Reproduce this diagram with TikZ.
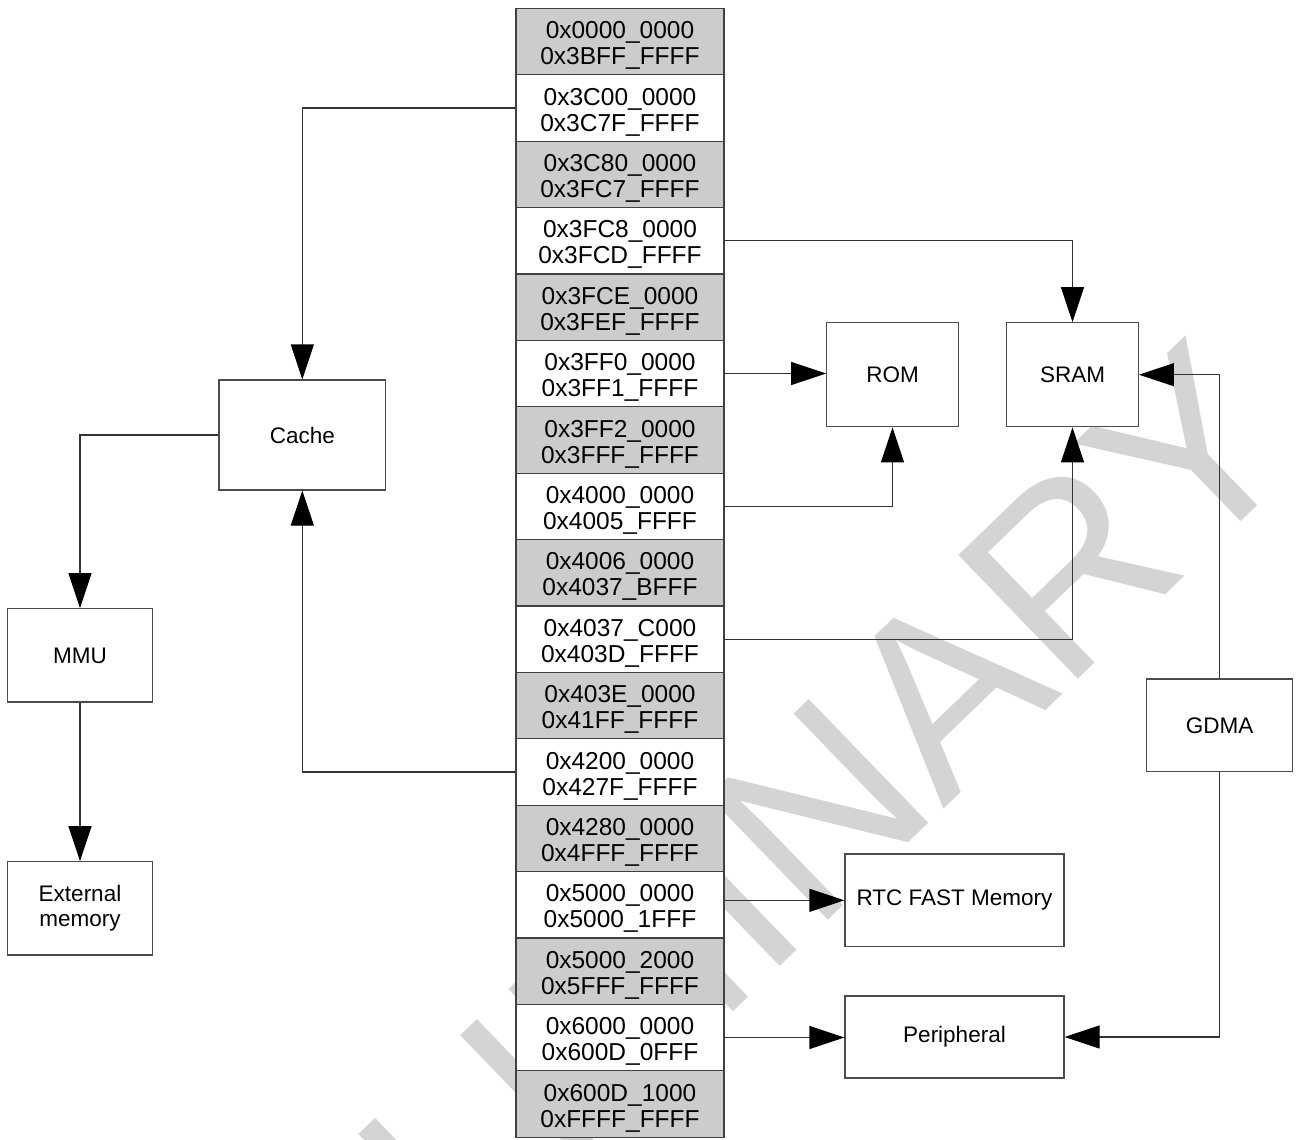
\documentclass[tikz,border=0pt]{standalone}
\usepackage{fontspec}
\setmainfont{Liberation Sans}
\usetikzlibrary{arrows.meta}
\newcommand{\memrow}[5]{%
  \node[#1] (r#2) at (620,#3) {};
  \node[rowtxt] (t#2) at (r#2.center) {#4\\#5};}
\begin{document}
\begin{tikzpicture}[x=1pt,y=-1pt,
  box/.style={draw=black!70, line width=1.2pt, fill=white, inner sep=0pt, align=center, font=\fontsize{22.5}{25.5}\selectfont},
  rowg/.style={draw=black!75, line width=1.2pt, fill=black!20, minimum width=208pt, minimum height=66.4pt, inner sep=0pt},
  roww/.style={rowg, fill=white},
  rowtxt/.style={align=center, inner sep=0pt, yshift=-4pt, font=\fontsize{24.5}{26}\selectfont},
  conn/.style={draw=black!80, line width=1.2pt},
  arr/.style={conn, -{Triangle[length=35pt,width=23pt,color=black,fill=black]}},
  wmark/.style={rotate=44, anchor=base east, inner sep=0pt, text=black!17, font=\fontsize{250}{250}\selectfont}
]
\useasboundingbox (0,0) rectangle (1298,1140);
\fill[white] (0,0) rectangle (1298,1140);
% watermark
\node[wmark] (wm) at (1310,455) {PRELIMINARY};
% memory map column
\memrow{rowg}{0}{41.5}{0x0000\_0000}{0x3BFF\_FFFF}
\memrow{roww}{1}{107.9}{0x3C00\_0000}{0x3C7F\_FFFF}
\memrow{rowg}{2}{174.3}{0x3C80\_0000}{0x3FC7\_FFFF}
\memrow{roww}{3}{240.7}{0x3FC8\_0000}{0x3FCD\_FFFF}
\memrow{rowg}{4}{307.1}{0x3FCE\_0000}{0x3FEF\_FFFF}
\memrow{roww}{5}{373.5}{0x3FF0\_0000}{0x3FF1\_FFFF}
\memrow{rowg}{6}{439.9}{0x3FF2\_0000}{0x3FFF\_FFFF}
\memrow{roww}{7}{506.3}{0x4000\_0000}{0x4005\_FFFF}
\memrow{rowg}{8}{572.7}{0x4006\_0000}{0x4037\_BFFF}
\memrow{roww}{9}{639.1}{0x4037\_C000}{0x403D\_FFFF}
\memrow{rowg}{10}{705.5}{0x403E\_0000}{0x41FF\_FFFF}
\memrow{roww}{11}{771.9}{0x4200\_0000}{0x427F\_FFFF}
\memrow{rowg}{12}{838.3}{0x4280\_0000}{0x4FFF\_FFFF}
\memrow{roww}{13}{904.7}{0x5000\_0000}{0x5000\_1FFF}
\memrow{rowg}{14}{971.1}{0x5000\_2000}{0x5FFF\_FFFF}
\memrow{roww}{15}{1037.5}{0x6000\_0000}{0x600D\_0FFF}
\memrow{rowg}{16}{1103.9}{0x600D\_1000}{0xFFFF\_FFFF}
% blocks
\node[box, minimum width=166.7pt, minimum height=110pt] (cache) at (302.3,435) {Cache};
\node[box, minimum width=145.4pt, minimum height=93.3pt] (mmu) at (80,655.4) {MMU};
\node[box, minimum width=145.4pt, minimum height=93.3pt] (ext) at (80,908.3) {External\\memory};
\node[box, minimum width=131.6pt, minimum height=104pt] (rom) at (892.5,374.7) {ROM};
\node[box, minimum width=131.6pt, minimum height=104pt] (sram) at (1072.5,374.7) {SRAM};
\node[box, minimum width=145.6pt, minimum height=92.7pt] (gdma) at (1219.5,725.3) {GDMA};
\node[box, minimum width=219pt, minimum height=92.7pt] (rtc) at (954.5,900.3) {RTC FAST Memory};
\node[box, minimum width=219pt, minimum height=82pt] (per) at (954.5,1037) {Peripheral};
% connectors
\draw[arr] (r1.west) -| (cache.north);
\draw[arr] (r3.east) -| (sram.north);
\draw[arr] (r5.east) -- (r5.east -| rom.west);
\draw[arr] (r7.east) -| (rom.south);
\draw[arr] (r9.east) -| (sram.south);
\draw[arr] (r11.west) -| (cache.south);
\draw[arr] (cache.west) -| (mmu.north);
\draw[arr] (mmu.south) -- (ext.north);
\draw[arr] (r13.east |- rtc.west) -- (rtc.west);
\draw[arr] (r15.east) -- (r15.east -| per.west);
\draw[arr] (gdma.north) |- (sram.east);
\draw[arr] (gdma.south) |- (per.east);
\end{tikzpicture}
\end{document}
